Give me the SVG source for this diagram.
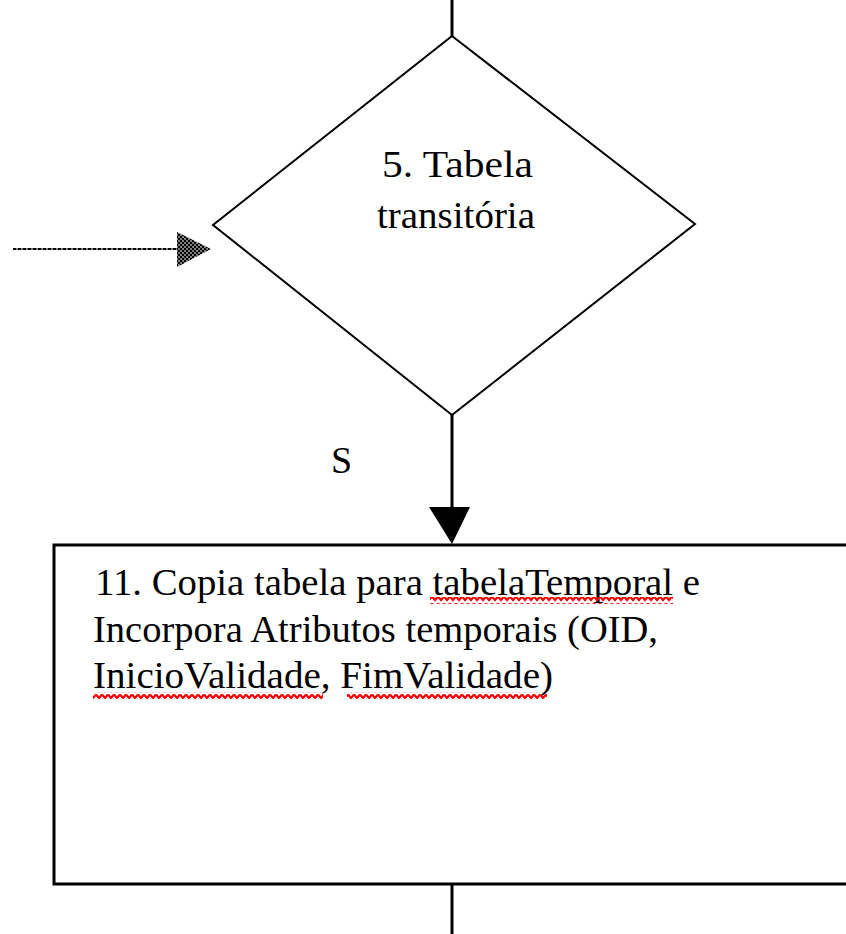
<svg xmlns="http://www.w3.org/2000/svg" width="846" height="934" viewBox="0 0 846 934">
  <defs>
    <style>
      .lbl { font-family: "Liberation Serif", "Times New Roman", serif; font-size: 38px; fill: #000; }
      .edge { stroke: #000; stroke-width: 3; fill: none; }
      .shape { stroke: #000; fill: #fff; }
      .squiggle { fill: url(#wave); }
    </style>
    <!-- dithered fill used on the dotted arrow's head -->
    <pattern id="checker" width="4" height="4" patternUnits="userSpaceOnUse">
      <rect width="4" height="4" fill="#808080"/>
      <rect width="2" height="2" fill="#000"/>
      <rect x="2" y="2" width="2" height="2" fill="#000"/>
    </pattern>
    <!-- spell-check style red wavy underline -->
    <pattern id="wave" width="6" height="7" patternUnits="userSpaceOnUse">
      <polyline points="0,1.5 3,5 6,1.5" fill="none" stroke="#f00" stroke-width="2.2"/>
    </pattern>
  </defs>

  <rect width="846" height="934" fill="#fff"/>

  <g id="connectors">
    <!-- entry from above -->
    <line class="edge" x1="452" y1="0" x2="452" y2="37"/>
    <!-- dotted arrow into the decision -->
    <line x1="13" y1="249" x2="180" y2="249" stroke="#808080" stroke-width="2"/>
    <line x1="13" y1="249" x2="180" y2="249" stroke="#000" stroke-width="2" stroke-dasharray="3 2"/>
    <polygon points="177,232 211,249 177,267" fill="url(#checker)"/>
    <!-- "S" branch down to the box -->
    <line class="edge" x1="452" y1="415" x2="452" y2="508"/>
    <polygon points="429,507 470,507 452,544" fill="#000"/>
    <text class="lbl" x="331" y="473">S</text>
    <!-- exit below -->
    <line class="edge" x1="452" y1="884" x2="452" y2="934"/>
  </g>

  <g id="node-5">
    <polygon class="shape" stroke-width="2" points="452,36 695,224 452,415 213,225"/>
    <text class="lbl" x="382" y="177" textLength="151" lengthAdjust="spacingAndGlyphs">5. Tabela</text>
    <text class="lbl" x="377" y="228" textLength="158" lengthAdjust="spacingAndGlyphs">transitória</text>
  </g>

  <g id="node-11">
    <rect class="shape" stroke-width="3" x="54" y="545" width="800" height="339"/>
    <text class="lbl" x="95" y="595" textLength="605" lengthAdjust="spacingAndGlyphs">11. Copia tabela para tabelaTemporal e</text>
    <text class="lbl" x="93" y="642" textLength="565" lengthAdjust="spacingAndGlyphs">Incorpora Atributos temporais (OID,</text>
    <text class="lbl" x="93" y="688" textLength="460" lengthAdjust="spacingAndGlyphs">InicioValidade, FimValidade)</text>
    <rect class="squiggle" x="430" y="597" width="243" height="7"/>
    <rect class="squiggle" x="93" y="692" width="230" height="7"/>
    <rect class="squiggle" x="347" y="692" width="200" height="7"/>
  </g>
</svg>
